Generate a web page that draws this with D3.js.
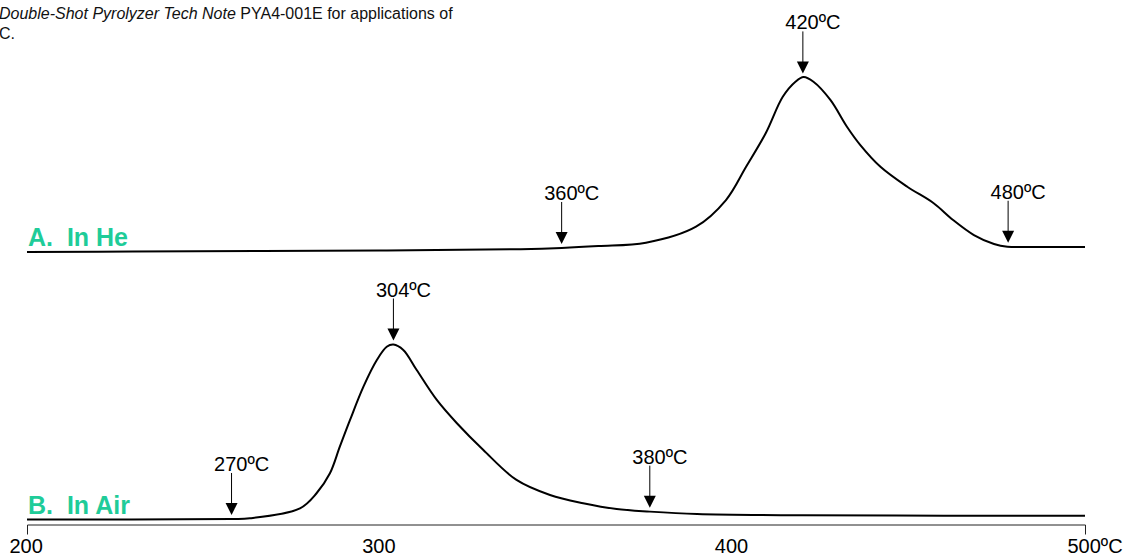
<!DOCTYPE html>
<html>
<head>
<meta charset="utf-8">
<script src="https://cdn.jsdelivr.net/npm/d3@7"></script>
<style>
  body { margin: 0; background: #fff; }
  svg text { font-family: "Liberation Sans", Arial, sans-serif; }
</style>
</head>
<body>
<div id="container"></div>
<script>
// thermogram data, temperature (ºC) vs relative signal (0-100)
var heTemp = [200, 230, 300, 340, 351.6, 362, 375.5, 389.7, 398.2, 403.9, 409.5, 414.3, 417.9, 420.2, 423, 427.8, 432.5, 436.3, 442, 449.6, 457, 462.6, 468.5, 474.2, 478, 485, 500]
var heSignal = [0, 0.3, 0.8, 1.6, 2.3, 3.4, 5.3, 14.5, 29.7, 48.7, 68, 88.7, 97.3, 100, 97.3, 86.9, 71.6, 61.1, 48.7, 37.3, 28, 18.3, 9.7, 4.6, 3, 2.9, 2.9]

var airTemp = [200, 258, 263.2, 277.4, 282.1, 285.9, 288.7, 291.6, 295.4, 299.2, 302, 303.9, 306.7, 310.5, 316.2, 321.9, 329.4, 338.8, 348.3, 357.7, 367.2, 376.6, 390, 420, 460, 500]
var airSignal = [0, 0.3, 0.7, 6.4, 15, 26.4, 41.6, 56.9, 75.9, 91.1, 98.7, 100, 96.9, 85.4, 68.3, 55, 39.7, 22.6, 14, 9.3, 6, 4.5, 3.1, 2.4, 2.2, 2.2]

// arrows: where they point and what they say
var heMarkTemp = [351.6, 420, 478.2]
var heMarkLabel = ["360ºC", "420ºC", "480ºC"]
var airMarkTemp = [258, 303.9, 376.6]
var airMarkLabel = ["270ºC", "304ºC", "380ºC"]

var tickValues = [200, 300, 400, 500]
var tickLabels = ["200", "300", "400", "500ºC"]

var width = 1128, height = 556

var svg = d3.select("#container")
  .append("svg")
    .attr("width", width)
    .attr("height", height)

var x = d3.scaleLinear().domain([200, 500]).range([27, 1085])
var yHe = d3.scaleLinear().domain([0, 100]).range([252, 77])
var yAir = d3.scaleLinear().domain([0, 100]).range([519.5, 344.5])

var green = "#1fcc99"

// top note, clipped at left like the original
var note = svg.append("text")
  .attr("x", -1)
  .attr("y", 19)
  .style("font-size", "16px")
  .attr("fill", "#111")
note.append("tspan").style("font-style", "italic").text("Double-Shot Pyrolyzer Tech Note")
note.append("tspan").text(" PYA4-001E for applications of")
svg.append("text")
  .attr("x", -1)
  .attr("y", 39)
  .style("font-size", "16px")
  .attr("fill", "#111")
  .text("C.")

function drawPanel(temps, signal, y, markTemps, markLabels, name, nameY){
  var pts = temps.map(function(t, i){ return [t, signal[i]] })
  var line = d3.line()
    .x(function(d){ return x(d[0]) })
    .y(function(d){ return y(d[1]) })
    .curve(d3.curveCatmullRom.alpha(0.5))

  svg.append("path")
    .datum(pts)
    .attr("d", line)
    .attr("fill", "none")
    .attr("stroke", "#000")
    .attr("stroke-width", 2)

  // signal at a given temperature (linear between points)
  function valueAt(t){
    var i = d3.bisectLeft(temps, t)
    if (i <= 0) return signal[0]
    if (i >= temps.length) return signal[signal.length-1]
    var f = (t - temps[i-1]) / (temps[i] - temps[i-1])
    return signal[i-1] + f * (signal[i] - signal[i-1])
  }

  var marks = svg.selectAll(null)
    .data(markTemps.map(function(t, i){ return {t: t, label: markLabels[i]} }))
    .enter().append("g")
      .attr("transform", function(d){
        return "translate(" + x(d.t) + "," + (y(valueAt(d.t)) - 4) + ")" })

  marks.append("line")
    .attr("x1", 0).attr("x2", 0)
    .attr("y1", -42).attr("y2", -10)
    .attr("stroke", "#000")
    .attr("stroke-width", 1)
  marks.append("path")
    .attr("d", "M-6,-12L6,-12L0,0Z")
    .attr("fill", "#000")
  marks.append("text")
    .attr("x", -17.5)
    .attr("y", -44)
    .style("font-size", "20px")
    .attr("fill", "#000")
    .text(function(d){ return d.label })

  svg.append("text")
    .attr("x", 28)
    .attr("y", nameY)
    .style("font-size", "25px")
    .style("font-weight", "bold")
    .style("white-space", "pre")
    .attr("fill", green)
    .text(name)
}

drawPanel(heTemp, heSignal, yHe, heMarkTemp, heMarkLabel, "A.  In He", 246)
drawPanel(airTemp, airSignal, yAir, airMarkTemp, airMarkLabel, "B.  In Air", 514)

// temperature axis, end ticks only
var axis = d3.axisBottom(x)
  .tickValues(tickValues)
  .tickFormat(function(d, i){ return tickLabels[i] })
  .tickSizeInner(0)
  .tickSizeOuter(10)
  .tickPadding(14)

var gAxis = svg.append("g")
  .attr("transform", "translate(0,524.5)")
  .call(axis)
gAxis.select(".domain").attr("stroke", "#222").attr("stroke-width", 1)
gAxis.selectAll(".tick line").remove()
gAxis.selectAll(".tick text")
  .attr("text-anchor", "start")
  .attr("x", -18)
  .attr("fill", "#000")
  .style("font-size", "20px")
  .style("font-family", "'Liberation Sans', Arial, sans-serif")
</script>
</body>
</html>
